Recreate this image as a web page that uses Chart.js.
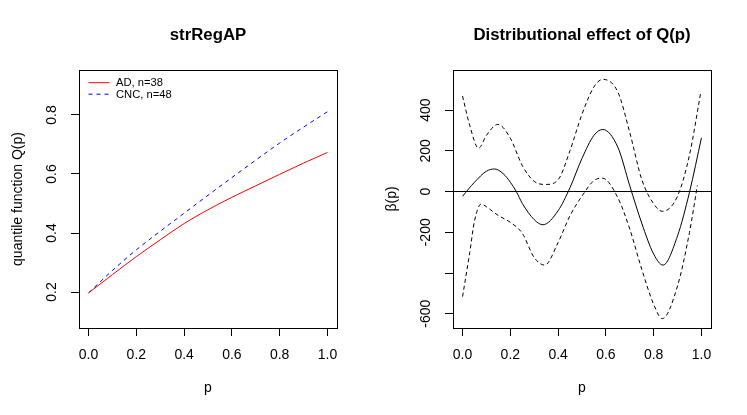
<!DOCTYPE html>
<html>
<head>
<meta charset="utf-8">
<script src="https://cdn.jsdelivr.net/npm/chart.js@4.4.1/dist/chart.umd.min.js"></script>
<style>
  html, body { margin: 0; padding: 0; background: #fff; }
  #wrap { position: relative; width: 747px; height: 415px; }
  .panel { position: absolute; top: 0; height: 415px; }
  #left { left: 0; width: 374px; }
  #right { left: 374px; width: 373px; }
</style>
</head>
<body>
<div id="wrap">
  <div class="panel" id="left"><canvas id="qChart"></canvas></div>
  <div class="panel" id="right"><canvas id="betaChart"></canvas></div>
</div>
<script>
// ---- left panel: quantile functions ----
const pGrid = [0, 0.1, 0.2, 0.3, 0.4, 0.5, 0.6, 0.7, 0.8, 0.9, 1.0];
const qAD  = [0.197, 0.259, 0.320, 0.377, 0.432, 0.479, 0.521, 0.560, 0.599, 0.637, 0.673];
const qCNC = [0.197, 0.273, 0.343, 0.406, 0.467, 0.528, 0.588, 0.647, 0.705, 0.759, 0.811];
const seriesLabels = ['AD, n=38', 'CNC, n=48'];

const xTicks = [0, 0.2, 0.4, 0.6, 0.8, 1.0];
const xTickLabels = ['0.0', '0.2', '0.4', '0.6', '0.8', '1.0'];
const qTicks = [0.2, 0.4, 0.6, 0.8];
const qTickLabels = ['0.2', '0.4', '0.6', '0.8'];

// ---- right panel: beta(p) with bands ----
const betaP = [0, 0.05, 0.1, 0.134, 0.17, 0.2, 0.225, 0.25, 0.3, 0.336, 0.4, 0.45, 0.5, 0.55, 0.587, 0.65, 0.7, 0.75, 0.8, 0.839, 0.9, 0.95, 1.0];
const beta  = [-23, 46, 100, 111, 88, 46, 0, -58, -138, -163, -94, 20, 163, 276, 305, 218, 28, -155, -307, -361, -217, -3, 264];

const upperP = [0, 0.03, 0.067, 0.1, 0.148, 0.2, 0.25, 0.3, 0.35, 0.4, 0.45, 0.5, 0.55, 0.587, 0.65, 0.7, 0.75, 0.8, 0.836, 0.9, 0.95, 0.997];
const upper  = [469, 325, 213, 276, 330, 262, 128, 50, 35, 58, 202, 380, 514, 551, 489, 290, 60, -60, -97, -22, 180, 486];

const lowerP = [0, 0.03, 0.05, 0.078, 0.1, 0.15, 0.2, 0.25, 0.3, 0.344, 0.4, 0.45, 0.5, 0.55, 0.585, 0.65, 0.7, 0.75, 0.8, 0.836, 0.9, 0.95, 0.983];
const lower  = [-516, -300, -145, -61, -75, -118, -151, -205, -324, -361, -250, -118, -22, 54, 66, -30, -184, -381, -554, -624, -463, -200, 30];

const betaTicks = [-600, -400, -200, 0, 200, 400];
const betaTickLabels = ['-600', '', '-200', '0', '200', '400'];

const FONT = "'Liberation Sans', Arial, Helvetica, sans-serif";
Chart.defaults.font.family = FONT;
Chart.defaults.color = '#000';

function pts(xs, ys) {
  return xs.map((x, i) => ({ x: x, y: ys[i] }));
}

// box round the plot, rotated y tick labels, R-style legend
const rAxes = {
  id: 'rAxes',
  afterDraw(chart, args, opts) {
    const ctx = chart.ctx;
    const a = chart.chartArea;
    const ys = chart.scales.y;
    ctx.save();
    ctx.strokeStyle = '#000';
    ctx.lineWidth = 1;
    ctx.setLineDash([]);
    const l = Math.round(a.left) + 0.5, t = Math.round(a.top) + 0.5;
    const r = Math.round(a.right) + 0.5, b = Math.round(a.bottom) + 0.5;
    ctx.strokeRect(l, t, r - l, b - t);

    ctx.fillStyle = '#000';
    ctx.font = '14px ' + FONT;
    ctx.textAlign = 'center';
    ctx.textBaseline = 'middle';
    opts.values.forEach((v, i) => {
      const txt = opts.labels[i];
      if (!txt) return;
      ctx.save();
      ctx.translate(a.left - 27, ys.getPixelForValue(v));
      ctx.rotate(-Math.PI / 2);
      ctx.fillText(txt, 0, 0);
      ctx.restore();
    });

    if (opts.legend) {
      ctx.font = '11.2px ' + FONT;
      ctx.textAlign = 'left';
      chart.data.datasets.forEach((ds, i) => {
        const y = a.top + 12.7 + i * 11.5;
        ctx.strokeStyle = ds.borderColor;
        ctx.setLineDash(ds.borderDash || []);
        ctx.beginPath();
        ctx.moveTo(a.left + 9.5, y);
        ctx.lineTo(a.left + 30.5, y);
        ctx.stroke();
        ctx.fillText(ds.label, a.left + 37, y + 0.5);
      });
    }
    ctx.restore();
  }
};

function baseOptions(cfg) {
  return {
    responsive: true,
    maintainAspectRatio: false,
    animation: false,
    layout: { padding: { left: 0, right: cfg.padRight, top: 0, bottom: 0 } },
    plugins: {
      legend: { display: false },
      tooltip: { enabled: false },
      title: {
        display: true,
        text: cfg.title,
        fullSize: false,
        color: '#000',
        font: { size: 16.8, weight: 'bold' },
        padding: { top: 25.1, bottom: 24.74 }
      },
      rAxes: { values: cfg.yTicks, labels: cfg.yLabels, legend: cfg.legend }
    },
    scales: {
      x: {
        type: 'linear',
        min: -0.04,
        max: 1.04,
        afterBuildTicks: (s) => { s.ticks = xTicks.map(v => ({ value: v })); },
        afterFit: (s) => { s.height = 87; },
        border: { display: false },
        grid: { drawOnChartArea: false, tickLength: 8, tickColor: '#000', tickWidth: 1 },
        ticks: {
          autoSkip: false,
          maxRotation: 0,
          padding: 10.6,
          color: '#000',
          font: { size: 14 },
          callback: (v, i) => xTickLabels[i]
        },
        title: { display: true, text: 'p', color: '#000', font: { size: 14 }, padding: { top: 0, bottom: 18.75 } }
      },
      y: {
        type: 'linear',
        min: cfg.yMin,
        max: cfg.yMax,
        afterBuildTicks: (s) => { s.ticks = cfg.yTicks.map(v => ({ value: v })); },
        afterFit: (s) => { s.width = 79; },
        border: { display: false },
        grid: {
          drawOnChartArea: !!cfg.zeroLine,
          color: (c) => (cfg.zeroLine && c.tick && c.tick.value === 0) ? '#000' : 'rgba(0,0,0,0)',
          tickLength: 8,
          tickColor: '#000',
          tickWidth: 1
        },
        ticks: { display: false },
        title: { display: true, text: cfg.yTitle, color: '#000', font: { size: 14 }, padding: { top: 9.4 } }
      }
    }
  };
}

const lineDefaults = { pointRadius: 0, borderWidth: 1, fill: false, cubicInterpolationMode: 'monotone' };

new Chart(document.getElementById('qChart'), {
  type: 'line',
  data: {
    datasets: [
      Object.assign({ label: seriesLabels[0], data: pts(pGrid, qAD), borderColor: '#ff0000' }, lineDefaults),
      Object.assign({ label: seriesLabels[1], data: pts(pGrid, qCNC), borderColor: '#0000ff', borderDash: [4, 4] }, lineDefaults)
    ]
  },
  options: baseOptions({
    title: 'strRegAP', padRight: 37, yMin: 0.078, yMax: 0.9525,
    yTicks: qTicks, yLabels: qTickLabels, yTitle: 'quantile function Q(p)', legend: true
  }),
  plugins: [rAxes]
});

new Chart(document.getElementById('betaChart'), {
  type: 'line',
  data: {
    datasets: [
      Object.assign({ label: 'β(p)', data: pts(betaP, beta), borderColor: '#000' }, lineDefaults),
      Object.assign({ label: 'upper', data: pts(upperP, upper), borderColor: '#000', borderDash: [4, 3] }, lineDefaults),
      Object.assign({ label: 'lower', data: pts(lowerP, lower), borderColor: '#000', borderDash: [4, 3] }, lineDefaults)
    ]
  },
  options: baseOptions({
    title: 'Distributional effect of Q(p)', padRight: 36, yMin: -670, yMax: 597,
    yTicks: betaTicks, yLabels: betaTickLabels, yTitle: 'β(p)', legend: false, zeroLine: true
  }),
  plugins: [rAxes]
});
</script>
</body>
</html>
